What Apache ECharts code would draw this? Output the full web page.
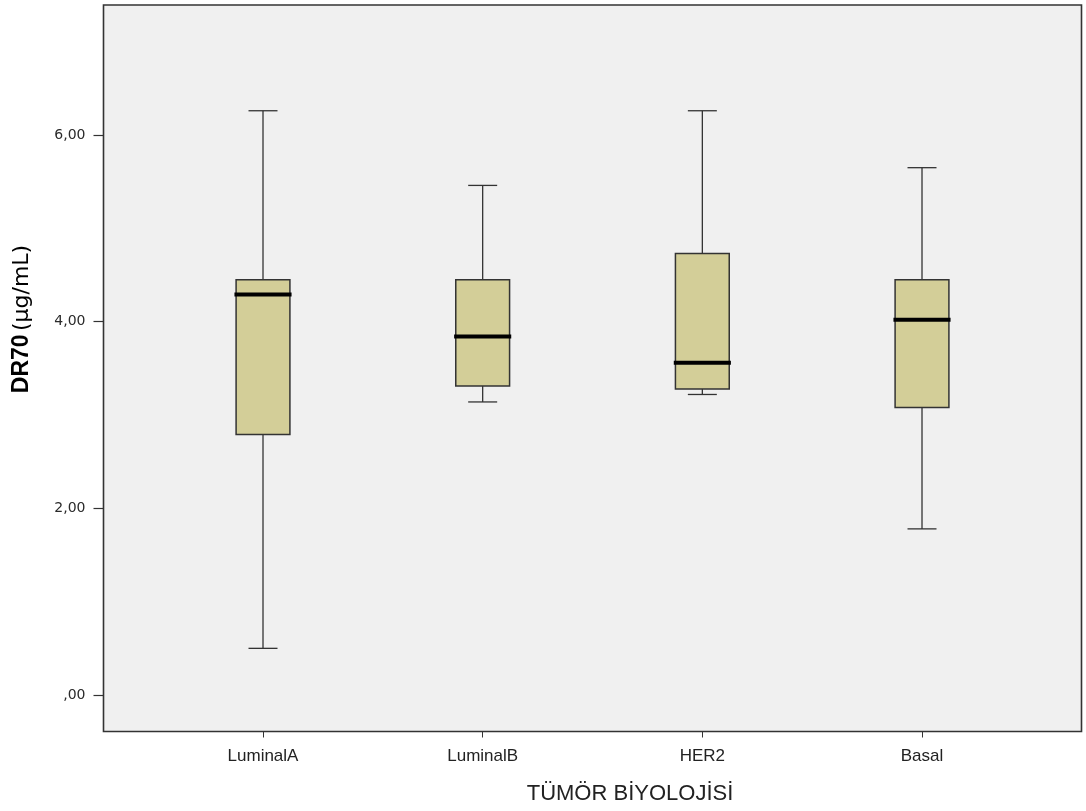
<!DOCTYPE html>
<html>
<head>
<meta charset="utf-8">
<script src="https://cdn.jsdelivr.net/npm/echarts@6/dist/echarts.min.js"></script>
<style>
html,body{margin:0;padding:0;background:#ffffff;}
#chart{width:1086px;height:811px;}
</style>
</head>
<body>
<div id="chart"></div>
<script>
// ---- data ----
const categories = ['LuminalA', 'LuminalB', 'HER2', 'Basal'];
const whiskerLow  = [0.50, 3.14, 3.22, 1.78];
const q1          = [2.79, 3.31, 3.28, 3.08];
const medians     = [4.29, 3.84, 3.56, 4.02];
const q3          = [4.45, 4.45, 4.73, 4.45];
const whiskerHigh = [6.26, 5.46, 6.26, 5.65];
const yTicks = [0, 2, 4, 6];
const yTitleBold = 'DR70';
const yTitleUnit = '(µg/mL)';
const xTitle = 'TÜMÖR BİYOLOJİSİ';

const yMin = -0.391, yMax = 7.393;

const rows = categories.map((c, i) => [i, whiskerLow[i], q1[i], medians[i], q3[i], whiskerHigh[i]]);

function fmt(v) {
  let s = v.toFixed(2).replace('.', ',');
  if (s.startsWith('0,')) s = s.slice(1);
  return s;
}

const chart = echarts.init(document.getElementById('chart'), null, {renderer: 'canvas'});
const lineCol = '#333333';

chart.setOption({
  animation: false,
  backgroundColor: '#ffffff',
  grid: [
    {left: 103.5, top: 5, width: 978, height: 726.5, show: true,
     backgroundColor: '#f0f0f0', borderColor: '#333333', borderWidth: 1.6},
    {left: 153.17, top: 5, width: 878.67, height: 726.5, show: false}
  ],
  xAxis: [
    {gridIndex: 0, type: 'value', show: false, min: 0, max: 1},
    {gridIndex: 1, type: 'category', data: categories, position: 'bottom',
     axisLine: {show: false, onZero: false},
     axisTick: {show: true, alignWithLabel: true, length: 6, lineStyle: {color: lineCol, width: 1}},
     axisLabel: {margin: 16, fontSize: 17, color: '#222222', fontFamily: 'Liberation Sans'},
     splitLine: {show: false}}
  ],
  yAxis: [
    {gridIndex: 0, type: 'value', min: yMin, max: yMax,
     axisLine: {show: false},
     axisTick: {show: true, length: 10, customValues: yTicks, lineStyle: {color: lineCol, width: 1.2}},
     axisLabel: {customValues: yTicks, margin: 18, fontSize: 14, color: '#2a2a2a',
                 fontFamily: 'DejaVu Sans', formatter: fmt},
     splitLine: {show: false}},
    {gridIndex: 1, type: 'value', min: yMin, max: yMax, show: false}
  ],
  graphic: [
    {type: 'text', x: 22, y: 319, rotation: Math.PI / 2,
     style: {text: '{b|' + yTitleBold + '} {n|' + yTitleUnit + '}',
             rich: {b: {fontSize: 23, fontWeight: 'bold', fill: '#000', fontFamily: 'Liberation Sans'},
                    n: {fontSize: 22, fill: '#000', fontFamily: 'DejaVu Sans'}},
             align: 'center', verticalAlign: 'middle'}},
    {type: 'text', x: 630, y: 794,
     style: {text: xTitle, fontSize: 22, fill: '#222222', fontFamily: 'Liberation Sans',
             align: 'center', verticalAlign: 'middle'}}
  ],
  series: [{
    type: 'custom',
    xAxisIndex: 1, yAxisIndex: 1,
    data: rows,
    encode: {x: 0, y: [1, 2, 3, 4, 5]},
    renderItem: function (params, api) {
      const xi = api.value(0);
      const band = api.size([1, 0])[0];
      const pLo = api.coord([xi, api.value(1)]);
      const pQ1 = api.coord([xi, api.value(2)]);
      const pMed = api.coord([xi, api.value(3)]);
      const pQ3 = api.coord([xi, api.value(4)]);
      const pHi = api.coord([xi, api.value(5)]);
      const cx = pHi[0];
      const bw = band * 0.1225, cw = band * 0.066, mw = band * 0.13;
      const ls = {stroke: lineCol, lineWidth: 1.3};
      return {
        type: 'group',
        children: [
          {type: 'line', shape: {x1: cx, y1: pHi[1], x2: cx, y2: pQ3[1]}, style: ls},
          {type: 'line', shape: {x1: cx, y1: pQ1[1], x2: cx, y2: pLo[1]}, style: ls},
          {type: 'line', shape: {x1: cx - cw, y1: pHi[1], x2: cx + cw, y2: pHi[1]}, style: ls},
          {type: 'line', shape: {x1: cx - cw, y1: pLo[1], x2: cx + cw, y2: pLo[1]}, style: ls},
          {type: 'rect', shape: {x: cx - bw, y: pQ3[1], width: 2 * bw, height: pQ1[1] - pQ3[1]},
           style: {fill: '#d3ce98', stroke: lineCol, lineWidth: 1.5}},
          {type: 'line', shape: {x1: cx - mw, y1: pMed[1], x2: cx + mw, y2: pMed[1]},
           style: {stroke: '#000000', lineWidth: 4}}
        ]
      };
    }
  }]
});
</script>
</body>
</html>
